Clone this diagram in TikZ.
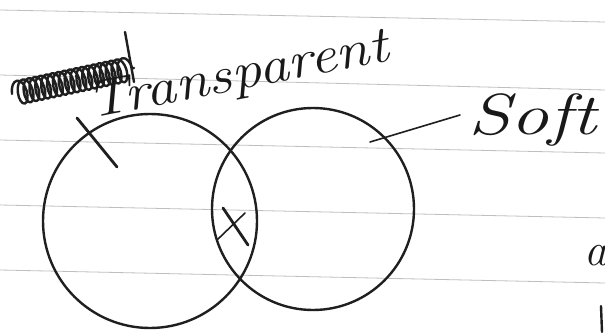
\documentclass[tikz,border=0pt]{standalone}
\usetikzlibrary{decorations.pathmorphing}
\begin{document}
\begin{tikzpicture}[x=1pt,y=-1pt,
  ink/.style={line width=2.4pt, black!88, line cap=round, line join=round},
  ruleline/.style={gray!50, line width=0.8pt},
  hand/.style={font=\fontsize{46}{50}\selectfont\itshape, inner sep=0pt, black!90}]
\useasboundingbox (0,0) rectangle (605,332);
\clip (0,0) rectangle (605,332);
\fill[white] (0,0) rectangle (605,332);
% ruled paper lines
\draw[ruleline] (0,10) -- (605,22);
\draw[ruleline] (0,75) -- (605,90);
\draw[ruleline] (0,140) -- (605,153);
\draw[ruleline] (0,205) -- (605,218);
\draw[ruleline] (0,270) -- (605,283);
% circles
\node[draw, circle, ink, minimum size=214pt, inner sep=0pt] (L) at (150,221) {};
\node[draw, circle, ink, minimum size=202pt, inner sep=0pt] (R) at (313,209) {};
% crossed-out word
\coordinate (scrA) at (12,94);
\coordinate (scrB) at (134,68);
\draw[ink, line width=2.4pt, decorate, decoration={coil, aspect=0.5, amplitude=12pt, segment length=6pt}] (scrA) -- (scrB);
\coordinate (dA) at (125,32);
\coordinate (dB) at (134,82);
\draw[ink, line width=2.4pt] (dA) -- (dB);
% labels
\node[hand, font=\fontsize{52}{56}\selectfont\itshape, rotate=11, xscale=1.16, anchor=base west] (tr) at (90,119) {Transparent};
\node[hand, font=\fontsize{58}{62}\selectfont\itshape, xscale=1.32, anchor=base west] (soft) at (468,134) {Soft};
% pointers
\coordinate (trA) at (77,118);
\coordinate (trB) at (117,167);
\draw[ink, line width=2.8pt] (trA) -- (trB);
\coordinate (sfA) at (460,115);
\coordinate (sfB) at (370,142);
\draw[ink, line width=1.6pt] (sfA) -- (sfB);
% intersection mark
\coordinate (x1) at (223,208);
\coordinate (x2) at (248,245);
\coordinate (x3) at (217,240);
\coordinate (x4) at (245,213);
\draw[ink, line width=2.8pt] (x1) -- (x2);
\draw[ink, line width=1.6pt] (x3) -- (x4);
% fragments at right edge
\node[hand, anchor=base west] (frag) at (584,265) {a};
\coordinate (kA) at (601,306);
\coordinate (kB) at (602,332);
\draw[ink, line width=2.4pt] (kA) -- (kB);
\end{tikzpicture}
\end{document}
